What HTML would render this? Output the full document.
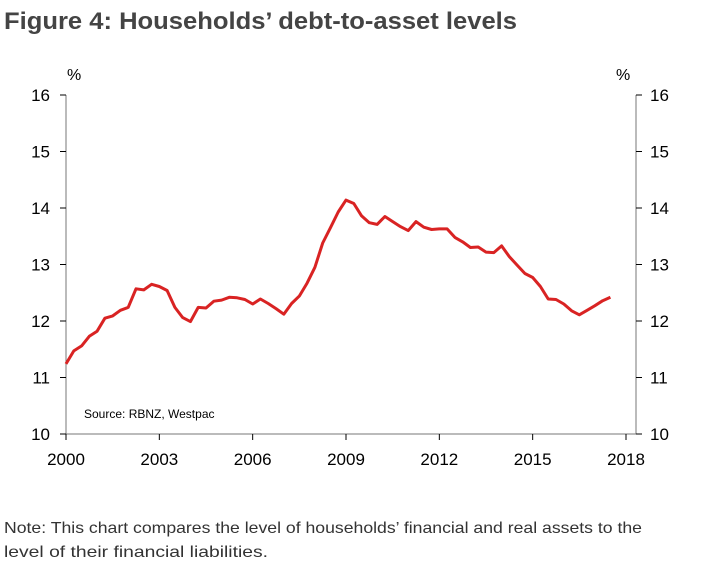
<!DOCTYPE html>
<html><head><meta charset="utf-8"><style>
body{margin:0;background:#fff;width:705px;height:576px;overflow:hidden;font-family:"Liberation Sans",sans-serif}
</style></head><body>
<svg width="705" height="576" xmlns="http://www.w3.org/2000/svg">
<text x="4" y="29" font-size="24" font-weight="bold" fill="#444" textLength="513" lengthAdjust="spacingAndGlyphs" font-family="Liberation Sans, sans-serif">Figure 4: Households’ debt-to-asset levels</text>
<g id="axes"></g>
<text x="84" y="418" font-size="12" fill="#000">Source: RBNZ, Westpac</text>
<text x="4" y="533" font-size="16" fill="#333" textLength="638" lengthAdjust="spacingAndGlyphs">Note: This chart compares the level of households’ financial and real assets to the</text>
<text x="4" y="557" font-size="16" fill="#333" textLength="264" lengthAdjust="spacingAndGlyphs">level of their financial liabilities.</text>
</svg>
<script>
const startYear = 2000;
const values = [11.24,11.47,11.56,11.73,11.82,12.05,12.09,12.19,12.24,12.57,12.55,12.65,12.61,12.54,12.24,12.06,11.99,12.24,12.23,12.35,12.37,12.42,12.41,12.38,12.30,12.39,12.31,12.22,12.12,12.31,12.44,12.67,12.95,13.38,13.65,13.93,14.14,14.08,
13.86,13.74,13.71,13.85,13.76,13.67,13.60,13.76,13.66,13.62,13.63,13.63,13.48,13.40,13.30,13.31,13.22,13.21,13.33,13.14,12.99,12.84,12.77,12.61,12.39,12.38,12.30,12.18,12.11,12.19,12.27,12.36,12.42];
const yTicks = [10,11,12,13,14,15,16];
const xTicks = [2000,2003,2006,2009,2012,2015,2018];
const NS="http://www.w3.org/2000/svg";
const X=v=>66+(v-2000)*(560/18);
const Y=v=>434-(v-10)*56.5;
const g=document.getElementById('axes');
function mk(t,a){const e=document.createElementNS(NS,t);for(const k in a)e.setAttribute(k,a[k]);g.appendChild(e);return e;}
const la=mk('line',{x1:66,y1:Y(16),x2:66,y2:Y(10),stroke:'#777','stroke-width':1});


const ra=mk('line',{x1:636,y1:Y(16),x2:636,y2:Y(10),stroke:'#777','stroke-width':1});


const xa=mk('line',{x1:66,y1:Y(10),x2:636,y2:Y(10),stroke:'#777','stroke-width':1});


yTicks.forEach(t=>{
 mk('line',{x1:60,y1:Y(t),x2:66,y2:Y(t),stroke:'#000'});
 mk('line',{x1:636,y1:Y(t),x2:642,y2:Y(t),stroke:'#000'});
 const l=mk('text',{x:50,y:Y(t)+6,'font-size':17,'text-anchor':'end'});l.textContent=t;
 
 
 const r=mk('text',{x:650,y:Y(t)+6,'font-size':17});r.textContent=t;
 
 
});
const p1=mk('text',{x:67,y:80,'font-size':16});p1.textContent='%';


const p2=mk('text',{x:616,y:80,'font-size':16});p2.textContent='%';


xTicks.forEach(t=>{
 mk('line',{x1:X(t),y1:Y(10),x2:X(t),y2:Y(10)+6,stroke:'#000'});
 const l=mk('text',{x:X(t),y:465,'font-size':17,'text-anchor':'middle'});l.textContent=t;
 
 
});
const pts=values.map((v,i)=>X(startYear+i*0.25).toFixed(1)+','+Y(v).toFixed(1)).join(' ');
const line=mk('polyline',{points:pts,fill:'none',stroke:'#d92323','stroke-width':3,'stroke-linejoin':'round'});


</script>
</body></html>
